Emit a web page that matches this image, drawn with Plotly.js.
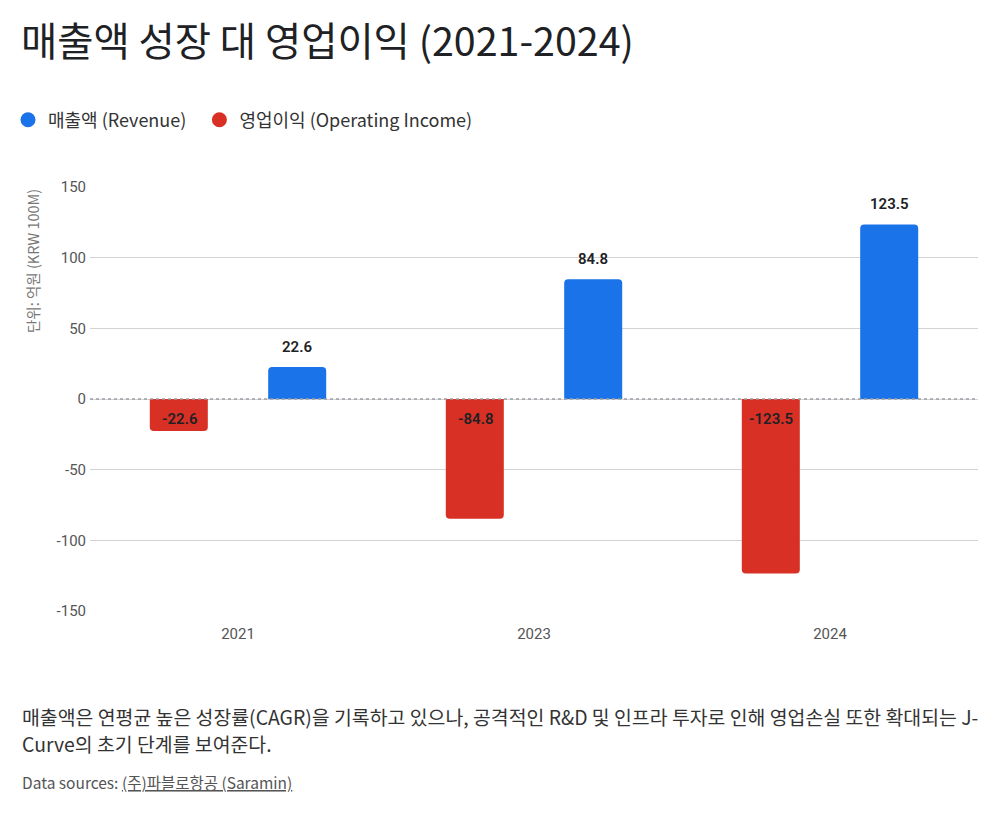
<!DOCTYPE html>
<html>
<head>
<meta charset="utf-8">
<script src="https://cdn.plot.ly/plotly-3.0.1.min.js"></script>
<style>html,body{margin:0;padding:0;background:#fff;}#chart{width:1000px;height:813px;}</style>
</head>
<body>
<div id="chart"></div>
<script>
const years = ['2021', '2023', '2024'];
const revenue = [22.6, 84.8, 123.5];
const operatingIncome = [-22.6, -84.8, -123.5];
const yTicks = [-150, -100, -50, 0, 50, 100, 150];
const revenueName = '매출액 (Revenue)';
const incomeName = '영업이익 (Operating Income)';
const titleText = '매출액 성장 대 영업이익 (2021-2024)';
const yTitle = '단위: 억원 (KRW 100M)';
const noteLine1 = '매출액은 연평균 높은 성장률(CAGR)을 기록하고 있으나, 공격적인 R&D 및 인프라 투자로 인해 영업손실 또한 확대되는 J-';
const noteLine2 = 'Curve의 초기 단계를 보여준다.';
const sourceText = 'Data sources: <u>(주)파블로항공 (Saramin)</u>';

const KFONT = "'Noto Sans CJK KR', 'Noto Sans', sans-serif";
const RFONT = "Roboto, 'Noto Sans CJK KR', sans-serif";
const BLUE = '#1a73e8';
const RED = '#d93025';

const traces = [
  {
    type: 'bar', x: years, y: operatingIncome, name: incomeName,
    marker: {color: RED}, showlegend: false, hoverinfo: 'x+y'
  },
  {
    type: 'bar', x: years, y: revenue, name: revenueName,
    marker: {color: BLUE}, showlegend: false, hoverinfo: 'x+y'
  },
  {
    type: 'scatter', mode: 'markers', x: [null], y: [null], name: revenueName + '\u00a0\u00a0',
    marker: {color: BLUE, size: 15, symbol: 'circle'}, legendrank: 1, hoverinfo: 'skip'
  },
  {
    type: 'scatter', mode: 'markers', x: [null], y: [null], name: incomeName,
    marker: {color: RED, size: 15, symbol: 'circle'}, legendrank: 2, hoverinfo: 'skip'
  }
];

const px = (p) => (p - 90) / 888;
const py = (p) => (611 - p) / 424;

const labelFont = {family: RFONT, size: 15, color: '#202124', weight: 600};
const valueLabels = [];
years.forEach((yr, i) => {
  valueLabels.push({
    xref: 'x', yref: 'y', x: i, y: revenue[i], xshift: 59, yshift: 20,
    xanchor: 'center', yanchor: 'middle', showarrow: false,
    text: revenue[i].toFixed(1), font: labelFont
  });
  valueLabels.push({
    xref: 'x', yref: 'y', x: i, y: 0, xshift: -59, yshift: -20,
    xanchor: 'center', yanchor: 'middle', showarrow: false,
    text: operatingIncome[i].toFixed(1), font: labelFont
  });
});

const layout = {
  width: 1000, height: 813,
  margin: {l: 90, r: 22, t: 187, b: 202, autoexpand: false},
  paper_bgcolor: '#ffffff', plot_bgcolor: '#ffffff',
  font: {family: KFONT, color: '#444'},
  title: {
    text: titleText, xref: 'container', yref: 'container',
    x: 0.021, xanchor: 'left', y: 1 - 42 / 813, yanchor: 'middle',
    font: {family: KFONT, size: 39.4, color: '#202124'}
  },
  barmode: 'group', bargap: 0.2, bargroupgap: 0.51, barcornerradius: 4,
  showlegend: true,
  legend: {
    orientation: 'h', x: px(8), xanchor: 'left', y: py(120), yanchor: 'middle',
    font: {family: KFONT, size: 18, color: '#333'}, itemclick: false
  },
  xaxis: {
    type: 'category', showgrid: false, zeroline: false, showline: false, automargin: false,
    tickfont: {family: RFONT, size: 15, color: '#555'}, ticks: '', ticklabelstandoff: 12
  },
  yaxis: {
    range: [-150, 150], tickvals: yTicks, ticktext: yTicks.map(String), automargin: false,
    showgrid: true, gridcolor: '#d3d3d3', gridwidth: 1,
    zeroline: false, showline: false, ticks: '',
    tickfont: {family: RFONT, size: 15, color: '#555'}, ticklabelstandoff: 3
  },
  shapes: [
    {type: 'line', xref: 'paper', x0: 0, x1: 1, yref: 'y', y0: 0, y1: 0,
     line: {color: '#9aa0a6', width: 1.5, dash: 'dot'}, layer: 'above'}
  ],
  annotations: valueLabels.concat([
    {text: yTitle, xref: 'paper', yref: 'paper', x: px(32), y: 1, xanchor: 'center', yanchor: 'top',
     textangle: -90, showarrow: false, font: {family: KFONT, size: 14.5, color: '#777'}},
    {text: noteLine1, xref: 'paper', yref: 'paper', x: px(20), y: py(716), xanchor: 'left', yanchor: 'middle',
     showarrow: false, font: {family: KFONT, size: 19.4, color: '#333'}},
    {text: noteLine2, xref: 'paper', yref: 'paper', x: px(20), y: py(743), xanchor: 'left', yanchor: 'middle',
     showarrow: false, font: {family: KFONT, size: 19.4, color: '#333'}},
    {text: sourceText, xref: 'paper', yref: 'paper', x: px(20), y: py(782), xanchor: 'left', yanchor: 'middle',
     showarrow: false, font: {family: KFONT, size: 15.5, color: '#555'}}
  ])
};

Plotly.newPlot('chart', traces, layout, {displayModeBar: false, responsive: false});
</script>
</body>
</html>
